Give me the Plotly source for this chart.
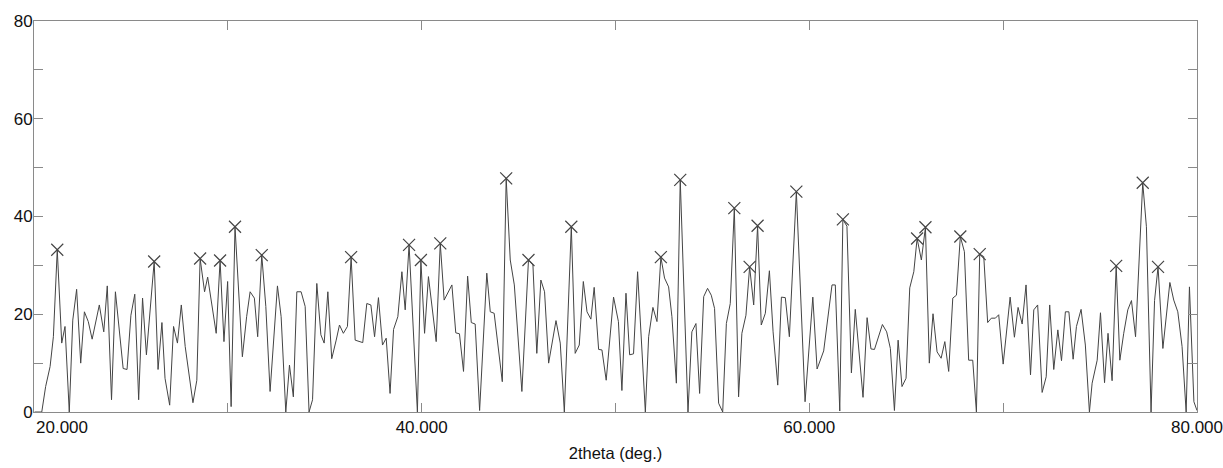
import plotly.graph_objects as go

two_theta = [
    20.03, 20.40, 20.60, 20.83, 21.00, 21.20, 21.43, 21.60, 21.82, 22.00,
    22.20, 22.41, 22.60, 22.80, 23.00, 23.37, 23.60, 23.78, 24.00, 24.20,
    24.60, 24.80, 25.00, 25.20, 25.40, 25.60, 25.80, 26.20, 26.40, 26.60,
    26.76, 27.00, 27.20, 27.40, 27.60, 27.80, 28.20, 28.40, 28.57, 28.80,
    28.96, 29.40, 29.60, 29.80, 29.99, 30.17, 30.37, 30.75, 30.97, 31.15,
    31.37, 31.54, 31.75, 31.96, 32.18, 32.56, 32.75, 32.99, 33.18, 33.38,
    33.56, 33.78, 33.99, 34.19, 34.37, 34.59, 34.80, 34.97, 35.16, 35.36,
    35.59, 35.76, 35.96, 36.17, 36.36, 36.57, 36.96, 37.17, 37.38, 37.57,
    37.77, 37.98, 38.17, 38.37, 38.55, 38.77, 38.98, 39.15, 39.35, 39.78,
    39.96, 40.15, 40.35, 40.75, 40.96, 41.16, 41.56, 41.76, 41.95, 42.16,
    42.37, 42.56, 42.76, 42.99, 43.36, 43.54, 43.74, 44.16, 44.36, 44.57,
    44.78, 45.17, 45.51, 45.74, 45.94, 46.15, 46.34, 46.55, 46.93, 47.15,
    47.36, 47.72, 47.92, 48.13, 48.34, 48.53, 48.73, 48.90, 49.13, 49.30,
    49.52, 49.90, 50.15, 50.33, 50.54, 50.73, 50.93, 51.14, 51.54, 51.71,
    51.93, 52.14, 52.34, 52.53, 52.74, 52.91, 53.14, 53.34, 53.74, 53.94,
    54.15, 54.34, 54.55, 54.75, 54.94, 55.11, 55.32, 55.53, 55.72, 55.92,
    56.13, 56.35, 56.52, 56.73, 56.92, 57.13, 57.33, 57.52, 57.73, 57.94,
    58.13, 58.37, 58.56, 58.76, 58.97, 59.33, 59.78, 60.18, 60.40, 60.74,
    61.17, 61.34, 61.57, 61.73, 61.94, 62.17, 62.37, 62.77, 62.98, 63.18,
    63.36, 63.77, 63.99, 64.18, 64.39, 64.58, 64.78, 64.99, 65.18, 65.39,
    65.56, 65.78, 65.99, 66.19, 66.38, 66.59, 66.80, 66.99, 67.19, 67.40,
    67.59, 67.79, 68.00, 68.22, 68.43, 68.62, 68.79, 69.00, 69.20, 69.39,
    69.60, 69.77, 70.00, 70.36, 70.58, 70.77, 70.98, 71.18, 71.41, 71.58,
    71.78, 72.01, 72.22, 72.40, 72.61, 72.82, 73.01, 73.21, 73.39, 73.61,
    73.78, 74.02, 74.24, 74.45, 74.59, 74.85, 75.02, 75.23, 75.41, 75.62,
    75.83, 76.02, 76.22, 76.43, 76.62, 76.83, 77.20, 77.39, 77.63, 77.81,
    77.99, 78.24, 78.60, 78.80, 79.01, 79.23, 79.44, 79.61, 79.84, 80.00,
]

intensity = [
    0, 0, 5.2, 9.3, 15.4, 33.2, 14.1, 17.5, 0, 18.8,
    25.1, 10.0, 20.5, 18.5, 14.9, 21.9, 16.4, 25.8, 2.5, 24.6,
    8.9, 8.7, 19.8, 24.1, 2.5, 23.3, 11.7, 30.8, 8.7, 18.3,
    6.9, 1.4, 17.5, 14.1, 21.9, 13.4, 1.9, 6.5, 31.4, 24.6,
    27.6, 16.1, 31.0, 14.4, 26.7, 1.1, 37.9, 11.3, 19.5, 24.6,
    23.3, 15.4, 32.1, 21.6, 4.2, 25.8, 19.5, 0, 9.6, 3.1,
    24.6, 24.6, 21.6, 0, 2.5, 26.3, 15.8, 14.1, 24.6, 10.9,
    14.7, 17.8, 16.1, 17.5, 31.7, 14.7, 14.2, 22.2, 21.9, 15.4,
    23.4, 13.7, 15.1, 3.8, 16.9, 19.5, 28.7, 20.9, 34.2, 0,
    31.1, 16.1, 27.7, 14.4, 34.5, 22.9, 26.0, 16.2, 16.0, 8.3,
    27.8, 18.3, 18.0, 0.3, 28.4, 20.5, 20.2, 6.2, 47.8, 31.1,
    26.0, 4.2, 31.1, 30.1, 12.0, 27.0, 24.6, 10.0, 18.7, 14.1,
    0, 37.9, 12.0, 13.7, 26.7, 20.5, 19.0, 25.5, 12.8, 12.7,
    6.5, 23.5, 18.5, 4.4, 24.3, 11.7, 11.9, 28.7, 0, 15.4,
    21.4, 18.5, 31.7, 27.4, 25.6, 19.5, 5.9, 47.5, 0, 16.4,
    18.1, 3.8, 23.6, 25.3, 23.9, 21.2, 1.8, 0, 18.1, 22.2,
    41.7, 3.1, 16.1, 19.8, 29.7, 21.9, 38.1, 17.8, 20.2, 28.9,
    16.4, 5.5, 23.5, 23.4, 15.4, 45.1, 2.1, 23.5, 8.8, 12.5,
    26.0, 26.0, 0.2, 39.4, 38.0, 8.0, 21.0, 3.0, 19.3, 12.9,
    12.8, 17.9, 16.4, 13.0, 0.3, 14.7, 5.2, 6.9, 25.4, 28.7,
    35.5, 31.1, 37.8, 10.0, 20.1, 12.3, 11.0, 14.4, 8.3, 23.3,
    23.9, 35.9, 32.8, 10.6, 10.6, 0, 32.3, 31.8, 18.3, 19.2,
    19.2, 19.9, 9.8, 23.5, 15.3, 21.4, 18.0, 26.0, 7.6, 20.9,
    21.9, 4.0, 7.2, 21.9, 8.7, 16.8, 10.5, 20.5, 20.5, 10.8,
    17.5, 21.0, 13.7, 0, 5.9, 10.6, 20.3, 6.0, 16.1, 6.4,
    29.9, 10.6, 16.1, 20.9, 22.8, 15.4, 46.9, 37.9, 0, 22.8,
    29.7, 13.0, 26.5, 22.9, 20.5, 13.4, 0, 25.6, 2.1, 0.3,
]

peak_x = [21.20, 26.20, 28.57, 29.60, 30.37, 31.75, 36.36, 39.35, 39.96,
          40.96, 44.36, 45.51, 47.72, 52.34, 53.34, 56.13, 56.92, 57.33,
          59.33, 61.73, 65.56, 65.99, 67.79, 68.79, 75.83, 77.20, 77.99]
peak_y = [33.2, 30.8, 31.4, 31.0, 37.9, 32.1, 31.7, 34.2, 31.1,
          34.5, 47.8, 31.1, 37.9, 31.7, 47.5, 41.7, 29.7, 38.1,
          45.1, 39.4, 35.5, 37.8, 35.9, 32.3, 29.9, 46.9, 29.7]

x_major = [40, 60, 80]
x_major_text = ["40.000", "60.000", "80.000"]
x_minor = [30, 50, 70]
first_label_x = 20
first_label_text = "20.000"
x_title = "2theta (deg.)"

FONT = "Liberation Sans, Arial, sans-serif"
AX = "#8a8a8a"
INK = "#444444"

fig = go.Figure()
fig.add_trace(go.Scatter(
    x=two_theta, y=intensity, mode="lines",
    line=dict(color=INK, width=1),
    showlegend=False, hoverinfo="x+y",
))
fig.add_trace(go.Scatter(
    x=peak_x, y=peak_y, mode="markers",
    marker=dict(symbol="x-thin-open", size=12, color=INK,
                line=dict(color=INK, width=1.2)),
    showlegend=False, cliponaxis=False,
))

fig.update_layout(
    width=1223, height=468,
    margin=dict(l=34, r=26, t=21, b=56, autoexpand=False),
    plot_bgcolor="white", paper_bgcolor="white",
    font=dict(family=FONT, color="#111", size=17),
    xaxis=dict(
        range=[20, 80], tickmode="array", tickvals=x_major, ticktext=x_major_text,
        ticks="inside", ticklen=9, tickcolor=AX, tickwidth=1,
        showline=True, linecolor=AX, linewidth=1, mirror="ticks",
        showgrid=False, zeroline=False,
        minor=dict(tickmode="array", tickvals=x_minor, ticks="inside", ticklen=9,
                   tickcolor=AX, showgrid=False),
        tickfont=dict(size=17),
        title=dict(text=x_title, font=dict(size=16.5), standoff=11),
    ),
    yaxis=dict(
        range=[0, 80], tickmode="linear", tick0=0, dtick=20,
        ticks="inside", ticklen=9, tickcolor=AX, tickwidth=1,
        showline=True, linecolor=AX, linewidth=1, mirror="ticks",
        showgrid=False, zeroline=False,
        minor=dict(dtick=10, ticks="inside", ticklen=9, tickcolor=AX, showgrid=False),
        tickfont=dict(size=17),
        ticklabelstandoff=-3,
    ),
    annotations=[dict(
        x=first_label_x, xref="x", y=0, yref="paper", yanchor="top", xanchor="left",
        yshift=-4, text=first_label_text, showarrow=False,
        font=dict(size=17, family=FONT, color="#111"),
    )],
)

fig.write_html(
    "out.html",
    config={"displayModeBar": False},
    post_script="document.body.style.margin='0px';document.body.style.overflow='hidden';",
)
